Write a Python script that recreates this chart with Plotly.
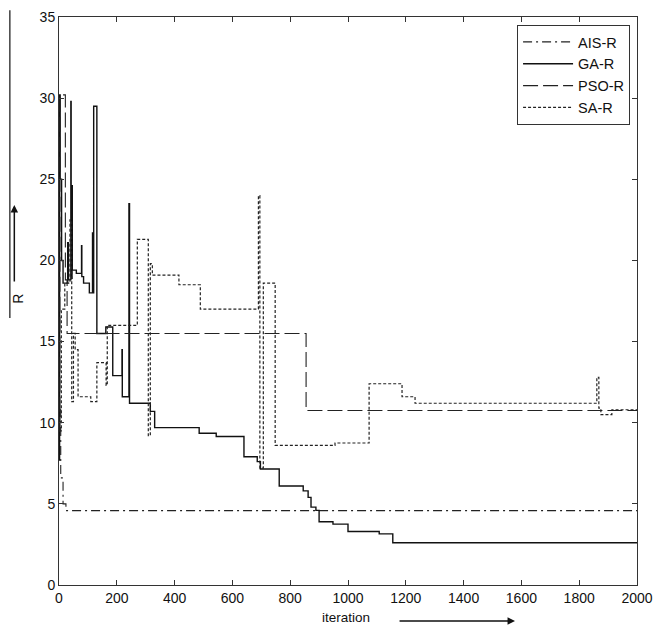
import plotly.graph_objects as go

# ---- data ----
ais_x = [0, 6, 14, 24, 2000]
ais_y = [10.8, 6.6, 5.0, 4.58, 4.58]

ga_x = [0, 2, 4, 9, 14, 30, 33, 41, 42, 45, 46, 60, 78, 79, 85, 105, 116, 117, 120, 131,
        162, 186, 218, 219, 242, 244, 316, 331, 485, 544, 640, 686, 697, 762, 845, 862,
        872, 889, 900, 948, 1000, 1108, 1155, 2000]
ga_y = [7.7, 30.2, 25.0, 20.0, 18.6, 21.1, 18.8, 29.8, 18.9, 24.6, 19.4, 19.2, 20.9, 19.0,
        18.6, 18.0, 21.7, 18.0, 29.5, 15.5, 15.9, 12.9, 14.5, 11.6, 23.5, 11.2, 10.7, 9.7,
        9.35, 9.15, 7.9, 7.6, 7.15, 6.1, 5.8, 5.4, 4.8, 4.6, 3.9, 3.75, 3.3, 3.15, 2.6, 2.6]

pso_x = [0, 3, 22, 28, 855, 2000]
pso_y = [9.5, 30.2, 18.8, 15.5, 10.75, 10.75]

sa_x = [0, 8, 20, 38, 44, 50, 56, 66, 110, 131, 163, 167, 271, 309, 316, 323, 415, 489,
        690, 695, 707, 748, 955, 1073, 1187, 1232, 1861, 1868, 1875, 1913, 2000]
sa_y = [9.5, 17.0, 18.6, 22.5, 11.3, 15.5, 14.5, 11.6, 11.3, 13.7, 12.3, 16.0, 21.3, 9.2,
        19.8, 19.1, 18.5, 17.0, 24.0, 7.2, 18.6, 8.6, 8.75, 12.4, 11.6, 11.2, 12.8, 10.9,
        10.5, 10.8, 10.8]

x_ticks = [0, 200, 400, 600, 800, 1000, 1200, 1400, 1600, 1800, 2000]
y_ticks = [0, 5, 10, 15, 20, 25, 30, 35]

FONT = "Liberation Sans, Arial, sans-serif"

fig = go.Figure()
fig.add_trace(go.Scatter(x=ais_x, y=ais_y, mode="lines", name="AIS-R", line_shape="hv",
                         line=dict(color="#222", width=1.1, dash="9px,4px,2px,4px")))
fig.add_trace(go.Scatter(x=ga_x, y=ga_y, mode="lines", name="GA-R", line_shape="hv",
                         line=dict(color="#111", width=1.4)))
fig.add_trace(go.Scatter(x=pso_x, y=pso_y, mode="lines", name="PSO-R", line_shape="hv",
                         line=dict(color="#222", width=1.1, dash="15px,5px")))
fig.add_trace(go.Scatter(x=sa_x, y=sa_y, mode="lines", name="SA-R", line_shape="hv",
                         line=dict(color="#222", width=1.2, dash="3px,2px")))

axis_common = dict(showgrid=False, zeroline=False, showline=True, linecolor="#333",
                   linewidth=1, mirror="ticks", ticks="inside", ticklen=5, tickcolor="#333",
                   automargin=False,
                   tickfont=dict(family=FONT, size=14, color="#111"))

fig.update_xaxes(range=[0, 2000], tickvals=x_ticks, ticktext=[str(v) for v in x_ticks],
                 **axis_common)
fig.update_yaxes(range=[0, 35], tickvals=y_ticks, ticktext=[str(v) for v in y_ticks],
                 **axis_common)

fig.update_layout(
    width=654, height=628,
    margin=dict(l=59, r=17, t=17, b=43, autoexpand=False),
    paper_bgcolor="white", plot_bgcolor="white",
    font=dict(family=FONT, size=13, color="#111"),
    legend=dict(x=0.988, y=0.986, xanchor="right", yanchor="top",
                bordercolor="#333", borderwidth=1, bgcolor="white",
                font=dict(family=FONT, size=14.5, color="#111"),
                tracegroupgap=0, itemwidth=50),
    annotations=[
        dict(text="R", x=-0.070, y=0.503, xref="paper", yref="paper", showarrow=False,
             xanchor="center", yanchor="middle",
             textangle=-90, font=dict(family=FONT, size=14, color="#111")),
        dict(text="", x=-0.0773, y=0.669, xref="paper", yref="paper", showarrow=True,
             ax=0, ay=78, arrowhead=2, arrowsize=1, arrowwidth=1.5, arrowcolor="#111"),
        dict(text="iteration", x=0.497, y=-0.058, xref="paper", yref="paper",
             xanchor="center", yanchor="middle",
             showarrow=False, font=dict(family=FONT, size=13.5, color="#111")),
        dict(text="", x=0.789, y=-0.0634, xref="paper", yref="paper", showarrow=True,
             ax=-117, ay=0, arrowhead=2, arrowsize=1, arrowwidth=1.5, arrowcolor="#111"),
    ],
    shapes=[
        dict(type="line", xref="paper", yref="paper", x0=-0.085, x1=-0.085,
             y0=0.470, y1=1.012, line=dict(color="#111", width=1.2)),
    ],
)

fig.write_html("out.html", config={"displayModeBar": False},
               post_script="document.body.style.margin='0';document.body.style.overflow='hidden';")
